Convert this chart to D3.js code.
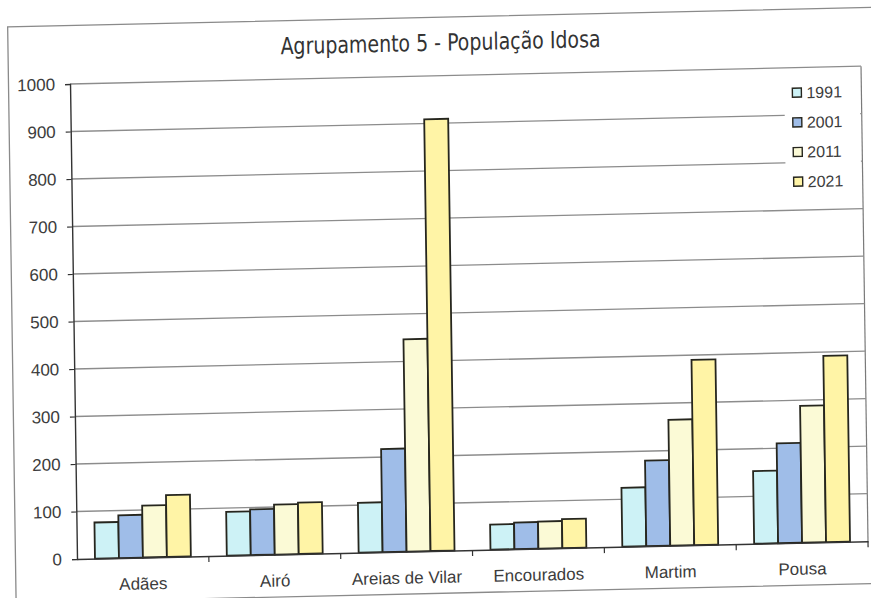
<!DOCTYPE html>
<html>
<head>
<meta charset="utf-8">
<script src="https://cdn.jsdelivr.net/npm/d3@7"></script>
<style>
  html, body { margin: 0; padding: 0; background: #ffffff; }
  svg { display: block; }
</style>
</head>
<body>
<svg id="chart" width="871" height="598"></svg>
<script>
const categories = ["Adães", "Airó", "Areias de Vilar", "Encourados", "Martim", "Pousa"];
const years = ["1991", "2001", "2011", "2021"];
const v1991 = [76, 92, 105, 53, 124, 153];
const v2001 = [90, 96, 217, 56, 180, 210];
const v2011 = [109, 105, 447, 57, 265, 288];
const v2021 = [130, 108, 909, 61, 390, 392];
const yTicks = [0, 100, 200, 300, 400, 500, 600, 700, 800, 900, 1000];
const titleText = "Agrupamento 5 - População Idosa";

const seriesValues = [v1991, v2001, v2011, v2021];
const colors = ["#cdf2f6", "#9fbde8", "#fbfad6", "#fff4a6"];

(function () {
const svg = d3.select("#chart");
const W = 871, H = 598;
svg.append("rect").attr("width", W).attr("height", H).attr("fill", "#ffffff");

// slight scan skew
const ox = 77, oy = 559;
const b = -0.0225, c = 0.0147;
const g = svg.append("g")
  .attr("transform", `matrix(1,${b},${c},1,${-c * oy},${-b * ox})`);

// outer frame
g.append("rect").attr("x", 15.5).attr("y", 25.5).attr("width", 873).attr("height", 576)
  .attr("fill", "none").attr("stroke", "#8a8a8a").attr("stroke-width", 1.3);

const pL = 77, pR = 868, pT = 84, pB = 559;

const x0 = d3.scaleBand().domain(categories).range([pL, pR]);
const bw = x0.bandwidth();
// gap width 150%: group = 4 bars, padding 0.75 bar each side
const x1b = d3.scaleBand().domain(years).range([bw * 0.75 / 5.5, bw - bw * 0.75 / 5.5]);
const y = d3.scaleLinear().domain([0, 1000]).range([pB, pT]);

// plot border (right side)
g.append("line").attr("x1", pR).attr("x2", pR).attr("y1", pT).attr("y2", pB)
  .attr("stroke", "#7a7a7a").attr("stroke-width", 1.2);

// gridlines
g.append("g").selectAll("line").data(yTicks.filter(d => d > 0)).join("line")
  .attr("x1", pL).attr("x2", pR)
  .attr("y1", d => y(d)).attr("y2", d => y(d))
  .attr("stroke", "#8c8c8c").attr("stroke-width", 1.3);

// legend background (covers gridlines)
g.append("rect").attr("x", 791).attr("y", 95).attr("width", pR - 791 - 1.5).attr("height", 117)
  .attr("fill", "#ffffff");

// bars
const data = [];
categories.forEach((cat, i) => {
  years.forEach((yr, j) => {
    data.push({ cat, yr, j, v: seriesValues[j][i] });
  });
});
g.append("g").selectAll("rect").data(data).join("rect")
  .attr("x", d => x0(d.cat) + x1b(d.yr))
  .attr("width", x1b.bandwidth())
  .attr("y", d => y(d.v))
  .attr("height", d => y(0) - y(d.v))
  .attr("fill", d => colors[d.j])
  .attr("stroke", "#26261e").attr("stroke-width", 1.8);

// y axis
const yAxis = d3.axisLeft(y).tickValues(yTicks).tickSize(5).tickPadding(10).tickFormat(d3.format("d"));
const ya = g.append("g").attr("transform", `translate(${pL},0)`).call(yAxis);
ya.select(".domain").attr("stroke", "#333").attr("stroke-width", 1.4);
ya.selectAll(".tick line").attr("stroke", "#333").attr("stroke-width", 1.2);
ya.selectAll(".tick text").attr("font-family", "'Liberation Sans', Arial, sans-serif")
  .attr("font-size", 17).attr("fill", "#3c3c3c");

// x axis
const xAxis = d3.axisBottom(x0).tickSize(0).tickPadding(20);
const xa = g.append("g").attr("transform", `translate(0,${pB})`).call(xAxis);
xa.select(".domain").attr("stroke", "#333").attr("stroke-width", 1.4);
xa.selectAll(".tick text").attr("font-family", "'Liberation Sans', Arial, sans-serif")
  .attr("font-size", 17).attr("fill", "#3c3c3c").attr("dy", "0.71em");
// category separators
g.append("g").selectAll("line").data(categories.slice(1).concat(["__end"])).join("line")
  .attr("x1", d => d === "__end" ? pR : x0(d)).attr("x2", d => d === "__end" ? pR : x0(d))
  .attr("y1", pB).attr("y2", pB + 6)
  .attr("stroke", "#333").attr("stroke-width", 1.2);

// title
g.append("text").attr("x", 448).attr("y", 59).attr("text-anchor", "middle")
  .attr("font-family", "'DejaVu Sans Condensed', 'DejaVu Sans', Verdana, sans-serif").attr("font-size", 23.5)
  .attr("textLength", 320).attr("lengthAdjust", "spacingAndGlyphs")
  .attr("fill", "#333").text(titleText);

// legend
const lg = g.append("g");
const legY = d3.scalePoint().domain(years).range([109, 198]);
lg.selectAll("rect").data(years).join("rect")
  .attr("x", 799).attr("y", d => legY(d) - 4.5).attr("width", 9).attr("height", 9)
  .attr("fill", (d, i) => colors[i]).attr("stroke", "#26261e").attr("stroke-width", 1.4);
lg.selectAll("text").data(years).join("text")
  .attr("x", 813).attr("y", d => legY(d)).attr("dy", "0.36em")
  .attr("font-family", "'Liberation Sans', Arial, sans-serif").attr("font-size", 16)
  .attr("fill", "#3c3c3c").text(d => d);
})();
</script>
</body>
</html>
